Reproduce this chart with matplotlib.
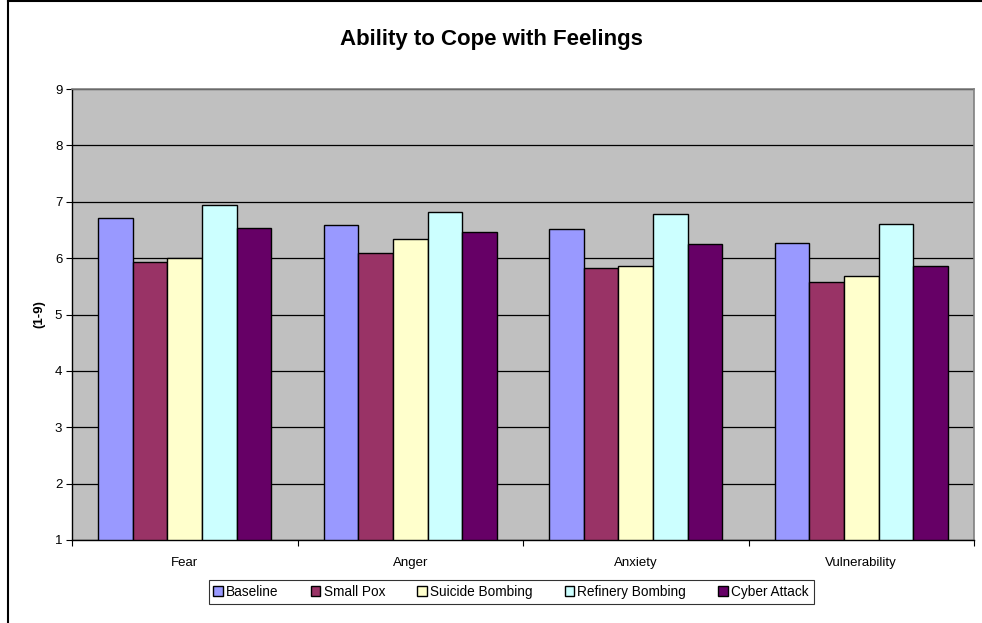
import matplotlib.pyplot as plt
import numpy as np

plt.rcParams['font.family'] = ['Liberation Sans', 'DejaVu Sans']

# Daten
categories = ['Fear', 'Anger', 'Anxiety', 'Vulnerability']
series = ['Baseline', 'Small Pox', 'Suicide Bombing', 'Refinery Bombing', 'Cyber Attack']
baseline = [6.72, 6.58, 6.52, 6.27]
small_pox = [5.94, 6.09, 5.83, 5.58]
suicide_bombing = [6.01, 6.34, 5.86, 5.68]
refinery_bombing = [6.94, 6.81, 6.78, 6.61]
cyber_attack = [6.54, 6.47, 6.25, 5.86]
colors = ['#9999FF', '#993366', '#FFFFCC', '#CCFFFF', '#660066']

values = [baseline, small_pox, suicide_bombing, refinery_bombing, cyber_attack]

fig = plt.figure(figsize=(9.82, 6.23), dpi=100)
ax = fig.add_axes([72 / 982, 1 - 540 / 623, 902 / 982, 451 / 623])
ax.set_facecolor('#C0C0C0')

x = np.arange(len(categories))
width = 0.153
bottom = 1
for i, (name, vals, col) in enumerate(zip(series, values, colors)):
    offs = (i - 2) * width
    ax.bar(x + offs, np.array(vals) - bottom, width, bottom=bottom, color=col,
           edgecolor='black', linewidth=1.0, label=name, zorder=3)

ax.set_xlim(-0.5, 3.5)
ax.set_ylim(1, 9)
ax.set_yticks(range(1, 10))
ax.yaxis.grid(True, color='black', linewidth=0.9, zorder=1)
ax.set_axisbelow(True)

ax.set_xticks(np.arange(-0.5, 4, 1), minor=False)
ax.set_xticklabels([])
ax.set_xticks(x, minor=True)
ax.set_xticklabels(categories, minor=True)
ax.tick_params(axis='x', which='minor', length=0, pad=12, labelsize=9.5)
ax.tick_params(axis='x', which='major', length=4, direction='out', color='black')
ax.tick_params(axis='y', length=4, direction='out', labelsize=9.5, pad=3)

for s in ['top', 'right']:
    ax.spines[s].set_color('#808080')
    ax.spines[s].set_linewidth(1.2)
for s in ['left', 'bottom']:
    ax.spines[s].set_color('black')
    ax.spines[s].set_linewidth(1.0)

ax.set_ylabel('(1-9)', fontsize=9.5, fontweight='bold', labelpad=7)

fig.text(0.5, 1 - 40 / 623, 'Ability to Cope with Feelings', ha='center', va='center',
         fontsize=16, fontweight='bold')

leg = fig.legend(loc='center', bbox_to_anchor=(511 / 982, 1 - 592 / 623), ncol=5,
                 fontsize=9.8, frameon=True, fancybox=False, edgecolor='black',
                 handlelength=0.7, handleheight=0.7, handletextpad=0.25,
                 columnspacing=2.35, borderpad=0.35)
leg.get_frame().set_linewidth(0.8)

# Rahmen links und oben
fig.add_artist(plt.Line2D([8 / 982, 8 / 982], [0, 1], color='black', linewidth=1.5))
fig.add_artist(plt.Line2D([8 / 982, 1], [1 - 1 / 623, 1 - 1 / 623], color='black', linewidth=1.5))

fig.savefig('out.png', dpi=100)
